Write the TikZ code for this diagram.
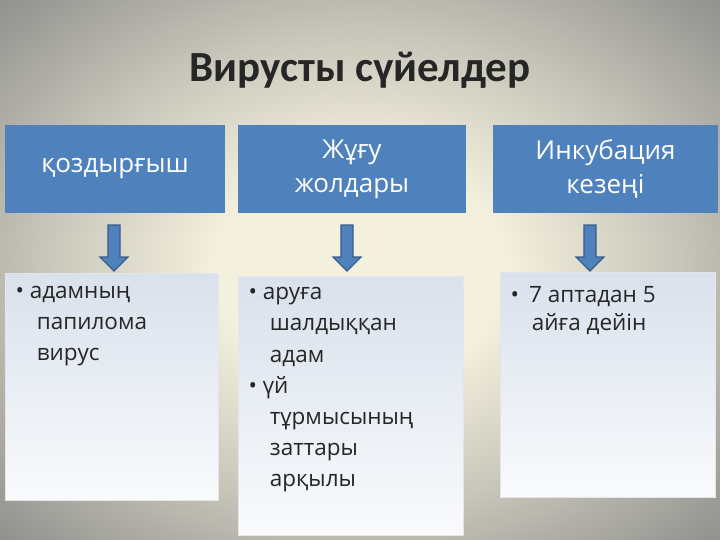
\documentclass[tikz,border=0pt]{standalone}
\usepackage{fontspec}
\setmainfont{Open Sans}
\newfontfamily\titlefont{Carlito}
\usetikzlibrary{shapes.arrows}
\definecolor{hdr}{HTML}{4F81BD}
\definecolor{hdrd}{HTML}{385D8A}
\definecolor{bodyc}{HTML}{D9E1EC}
\definecolor{bgin}{HTML}{F4F0DE}
\definecolor{bgmid}{HTML}{C8C6BA}
\definecolor{bgout}{HTML}{8E8E8C}
\pgfdeclareradialshading{bgshade}{\pgfpoint{0bp}{0bp}}{color(0bp)=(bgin); color(10bp)=(bgin); color(22bp)=(bgmid); color(36bp)=(bgout); color(50bp)=(bgout)}
\tikzset{
 hbox/.style={fill=hdr,draw=none},
 bbox/.style={top color=bodyc,bottom color=white!85!bodyc,draw=white!80!gray},
 htext/.style={text=white,font=\fontsize{26}{34}\selectfont,align=center},
 btext/.style={text=black!85,font=\fontsize{22.5}{31}\selectfont,align=left,anchor=north west},
 darrow/.style={single arrow,shape border rotate=270,fill=hdr,draw=hdrd,line width=1.2pt,minimum width=28pt,single arrow head extend=6pt,single arrow tip angle=90,minimum height=46pt,inner sep=4pt}
}
\begin{document}
\begin{tikzpicture}[x=1pt,y=-1pt]
\useasboundingbox (0,0) rectangle (720,540);
\shade[shading=bgshade] (0,0) rectangle (720,540);
\node[text=black!85,font=\titlefont\bfseries\fontsize{43}{48}\selectfont] (title) at (360,70) {Вирусты сүйелдер};
\draw[hbox] (5,125) rectangle (225,213) node[midway,htext] (h1) {қоздырғыш};
\draw[hbox] (238,125) rectangle (466,213) node[midway,htext] (h2) {Жұғу\\жолдары};
\draw[hbox] (493,125) rectangle (718,213) node[midway,htext] (h3) {Инкубация\\кезеңі};
\node[darrow] (a1) at (114,245) {};
\node[darrow] (a2) at (347,245) {};
\node[darrow] (a3) at (590,245) {};
\draw[bbox] (5,273) rectangle (218,500);
\draw[bbox] (238,276) rectangle (463,535);
\draw[bbox] (500,272) rectangle (715,497);
\node[btext] (b1) at (12,283) {• адамның\\\hspace*{0.95em}папилома\\\hspace*{0.95em}вирус};
\node[btext,font=\fontsize{22.5}{31.2}\selectfont] (b2) at (245,284) {• аруға\\\hspace*{0.95em}шалдыққан\\\hspace*{0.95em}адам\\• үй\\\hspace*{0.95em}тұрмысының\\\hspace*{0.95em}заттары\\\hspace*{0.95em}арқылы};
\node[btext,font=\fontsize{22.5}{28}\selectfont] (b3) at (507,283) {•\hspace{0.45em}7 аптадан 5\\\hspace*{0.95em}айға дейін};
\end{tikzpicture}
\end{document}
